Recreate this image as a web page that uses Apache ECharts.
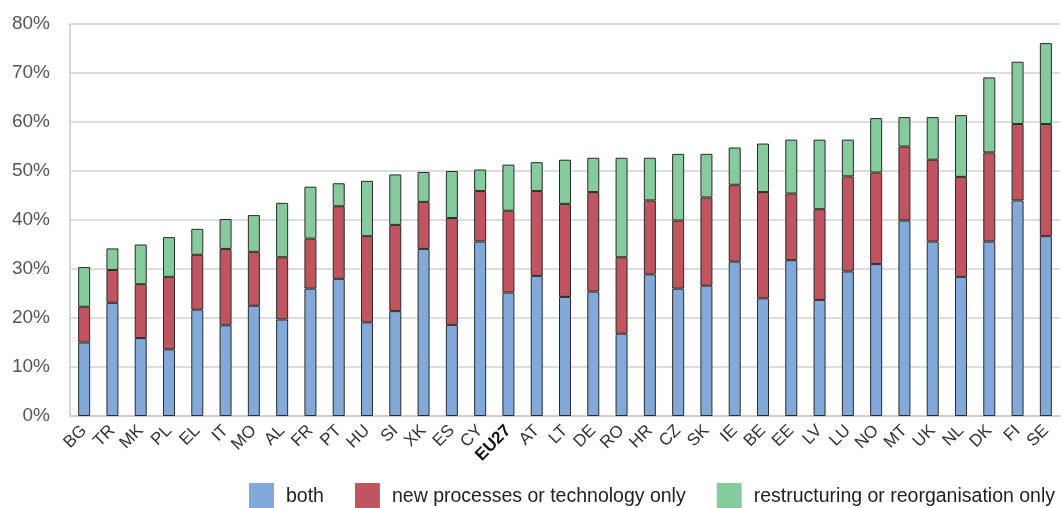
<!DOCTYPE html>
<html><head><meta charset="utf-8">
<script src="https://cdn.jsdelivr.net/npm/echarts@6/dist/echarts.min.js"></script>
<style>html,body{margin:0;padding:0;background:#fff}#c{width:1061px;height:508px}</style>
</head><body><div id="c"></div>
<script>
const categories = ['BG','TR','MK','PL','EL','IT','MO','AL','FR','PT','HU','SI','XK','ES','CY','EU27','AT','LT','DE','RO','HR','CZ','SK','IE','BE','EE','LV','LU','NO','MT','UK','NL','DK','FI','SE'];
const both = [15.0,23.1,15.9,13.6,21.7,18.5,22.5,19.7,26.0,28.0,19.1,21.4,34.1,18.6,35.6,25.2,28.6,24.3,25.4,16.8,28.9,26.0,26.6,31.5,24.0,31.8,23.7,29.5,31.0,39.9,35.6,28.4,35.6,44.0,36.7];
const newProc = [7.3,6.7,11.0,14.8,11.2,15.6,11.0,12.7,10.2,14.8,17.6,17.6,9.6,21.8,10.3,16.7,17.3,19.0,20.3,15.6,15.1,13.9,18.0,15.7,21.7,13.6,18.5,19.4,18.7,15.1,16.7,20.4,18.2,15.6,22.9];
const restruct = [8.1,4.4,8.1,8.1,5.3,6.1,7.5,11.1,10.6,4.7,11.3,10.3,6.1,9.6,4.4,9.4,5.9,9.0,7.0,20.3,8.7,13.6,8.9,7.6,9.9,11.0,14.2,7.5,11.1,6.0,8.7,12.6,15.3,12.7,16.5];
const seriesNames = ['both','new processes or technology only','restructuring or reorganisation only'];
const colors = ['#82A9D9','#C0555F','#85CB9B'];

const chart = echarts.init(document.getElementById('c'));
const mk = (name, data, color) => ({
  name, type:'bar', stack:'s', data, barWidth:12,
  itemStyle:{color, borderColor:'#2a2a2a', borderWidth:1}
});
chart.setOption({
  animation:false,
  textStyle:{fontFamily:'Liberation Sans, Arial, sans-serif'},
  grid:{left:70,right:1,top:24,bottom:92,containLabel:false},
  legend:{
    left:249, top:483, itemWidth:25, itemHeight:28, itemGap:31,
    icon:'rect', padding:0,
    itemStyle:{borderWidth:0},
    textStyle:{fontSize:19.5,color:'#222',padding:[0,0,0,7]},
    data:seriesNames
  },
  xAxis:{
    type:'category', data:categories,
    axisLine:{lineStyle:{color:'#c8c8c8',width:1.5}},
    axisTick:{show:false},
    axisLabel:{
      rotate:45, fontSize:17, color:'#333', margin:12, interval:0,
      formatter:v => v==='EU27' ? '{b|'+v+'}' : v,
      rich:{b:{fontWeight:'bold',fontSize:17,color:'#111'}}
    }
  },
  yAxis:{
    type:'value', min:0, max:80, interval:10,
    axisLine:{show:true,lineStyle:{color:'#c8c8c8',width:1.5}},
    axisTick:{show:false},
    splitLine:{lineStyle:{color:'#d2d2d2',width:1.5}},
    axisLabel:{formatter:'{value}%', fontSize:19, color:'#555', margin:20}
  },
  series:[mk(seriesNames[0],both,colors[0]),mk(seriesNames[1],newProc,colors[1]),mk(seriesNames[2],restruct,colors[2])]
});
</script></body></html>
